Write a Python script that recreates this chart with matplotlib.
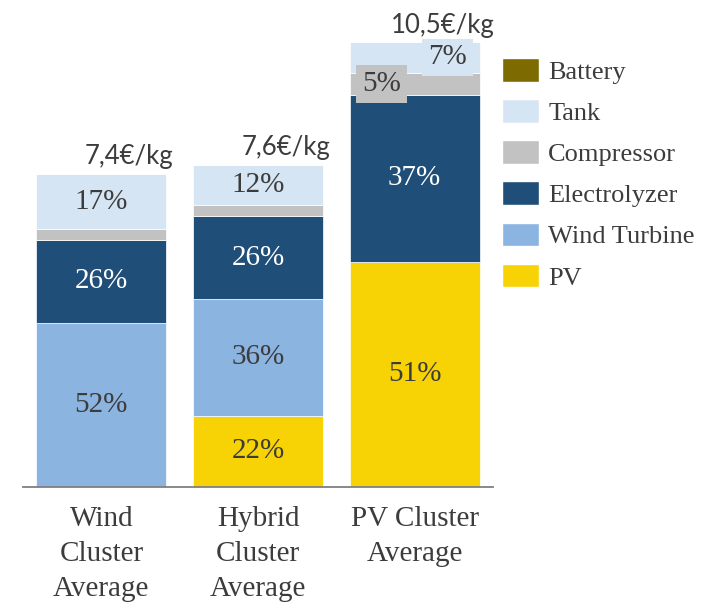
import numpy as np
import matplotlib.pyplot as plt
from matplotlib.patches import Patch

# data: cost shares (%) per cluster, totals in €/kg
categories = ["Wind\nCluster\nAverage", "Hybrid\nCluster\nAverage", "PV Cluster\nAverage"]
totals = [7.4, 7.6, 10.5]
total_labels = ["7,4€/kg", "7,6€/kg", "10,5€/kg"]

components = ["PV", "Wind Turbine", "Electrolyzer", "Compressor", "Tank", "Battery"]
pv = [0.0, 22.2, 50.7]
wind_turbine = [52.4, 36.2, 0.0]
electrolyzer = [26.4, 25.7, 37.4]
compressor = [3.6, 3.4, 5.1]
tank = [17.4, 12.4, 6.8]
battery = [0.0, 0.0, 0.0]

shares = [pv, wind_turbine, electrolyzer, compressor, tank, battery]
colors = ["#F7D305", "#8BB4E0", "#1F4E78", "#C2C2C2", "#D6E5F4", "#7D6A00"]
text_dark = "#3c3c3c"

serif = "Liberation Serif"
sans = "Lato"

fig = plt.figure(figsize=(7.15, 6.11), dpi=100)
ax = fig.add_axes([23/715, 124/611, 470/715, 487/611])

x = np.arange(len(categories))
width = 0.83
bottom = np.zeros(len(categories))

for comp, share, col in zip(components, shares, colors):
    heights = np.array(totals) * np.array(share) / 100
    ax.bar(x, heights, width, bottom=bottom, color=col, edgecolor="white", linewidth=0.5)
    for i, (h, s) in enumerate(zip(heights, share)):
        if s < 4.5:
            continue
        tcol = "white" if comp == "Electrolyzer" else text_dark
        xi = x[i]
        bbox = None
        # the two thin segments on the PV bar get a shifted, boxed label
        if i == 2 and comp == "Compressor":
            xi -= 0.21
            bbox = dict(boxstyle="square,pad=0.2", fc=col, ec="none")
        elif i == 2 and comp == "Tank":
            xi += 0.21
            bbox = dict(boxstyle="square,pad=0.2", fc=col, ec="none")
        ax.text(xi, bottom[i] + h/2, f"{round(s)}%", ha="center", va="center",
                fontsize=21, family=serif, color=tcol, bbox=bbox)
    bottom += heights

for i, t in enumerate(totals):
    ax.annotate(total_labels[i], (x[i], t), xytext=(20, 7), textcoords="offset points",
                ha="center", va="baseline", fontsize=18.5, family=sans, color=text_dark)

ax.set_xlim(-0.5, 2.5)
ax.set_ylim(0, 11.5)
ax.set_yticks([])
ax.set_xticks(x)
ax.set_xticklabels(categories, fontsize=21, family=serif, color=text_dark, linespacing=1.45)
ax.tick_params(axis="x", length=0, pad=13.5)
for side in ["left", "right", "top"]:
    ax.spines[side].set_visible(False)
ax.spines["bottom"].set_color("#7f7f7f")
ax.spines["bottom"].set_linewidth(1.3)

handles = [Patch(facecolor=c, edgecolor="white", label=n) for n, c in zip(components, colors)][::-1]
fig.legend(handles=handles, loc="upper left", bbox_to_anchor=(502/715, 1 - 58/611),
           frameon=False, prop={"family": serif, "size": 19}, labelcolor=text_dark,
           handlelength=1.4, handleheight=1.0, handletextpad=0.35, labelspacing=0.58,
           borderpad=0, borderaxespad=0)

fig.savefig("out.png", dpi=100)
